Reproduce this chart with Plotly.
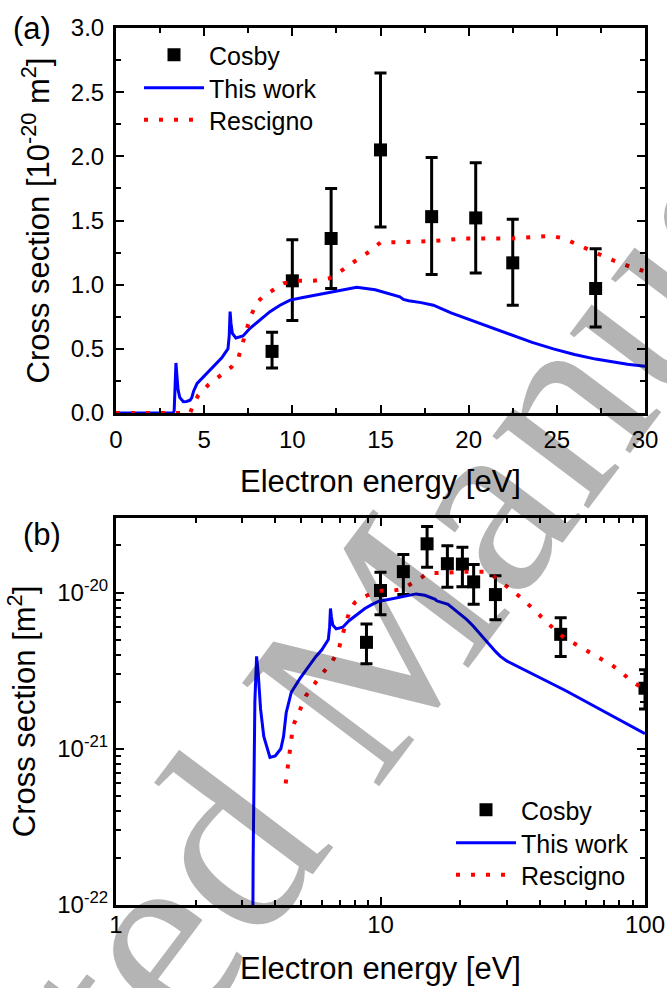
import plotly.graph_objects as go

# ---------------- data (cross sections in units of 1e-20 m^2) ----------------
cosby_E = [8.85, 10.0, 12.2, 15.0, 17.9, 20.4, 22.5, 27.2, 48.0, 100.0]
cosby_sig = [0.48, 1.03, 1.36, 2.05, 1.53, 1.52, 1.17, 0.97, 0.54, 0.244]
cosby_hi = [0.63, 1.35, 1.75, 2.65, 1.99, 1.95, 1.51, 1.28, 0.69, 0.32]
cosby_lo = [0.35, 0.72, 0.97, 1.45, 1.08, 1.09, 0.84, 0.67, 0.39, 0.18]

this_E = [0, 3.25, 3.30, 3.35, 3.40, 3.45, 3.52, 3.62, 3.82, 4.0, 4.2, 4.3, 4.4,
          4.6, 4.95, 5.3, 5.7, 6.0, 6.18, 6.35, 6.42, 6.47, 6.52, 6.6, 6.8, 7.2,
          7.6, 8.1, 8.73, 9.3, 9.87, 10.6, 11.4, 12.5, 13.65, 14.7, 15.6, 16.1,
          16.3, 16.6, 17.3, 18.0, 19.0, 20.0, 21.2, 22.4, 23.6, 24.8, 26.0, 27.2,
          28.4, 29.0, 30.0, 50.0, 100.0]
this_sig = [0, 0, 0.02, 0.20, 0.39, 0.30, 0.18, 0.12, 0.088, 0.09, 0.10, 0.12, 0.17,
            0.23, 0.28, 0.33, 0.39, 0.43, 0.466, 0.50, 0.60, 0.79, 0.70, 0.62, 0.585, 0.60,
            0.66, 0.72, 0.79, 0.84, 0.88, 0.90, 0.92, 0.95, 0.98, 0.96, 0.925, 0.905,
            0.885, 0.875, 0.86, 0.84, 0.78, 0.73, 0.67, 0.61, 0.55, 0.50, 0.456, 0.42,
            0.39, 0.38, 0.365, 0.236, 0.125]

resc_E = [0, 3.9, 4.2, 4.38, 4.67, 5.24, 5.9, 6.56, 6.94, 7.32, 7.6, 7.98, 8.36,
          8.93, 9.49, 10.25, 11.2, 12.1, 12.7, 13.3, 13.84, 14.4, 15.0, 16.0, 18.0,
          19.7, 22.4, 24.7, 25.4, 26.7, 28.0, 29.15, 30.0, 34.2, 39.8, 43.1, 47.5,
          52.0, 62.9, 74.8, 81.6, 89.0, 100.0]
resc_sig = [0, 0, 0, 0.06, 0.14, 0.22, 0.29, 0.36, 0.43, 0.60, 0.74, 0.86, 0.91,
            0.96, 1.01, 1.03, 1.03, 1.05, 1.10, 1.16, 1.21, 1.26, 1.33, 1.33, 1.34,
            1.36, 1.36, 1.38, 1.36, 1.28, 1.20, 1.14, 1.10, 0.92, 0.72, 0.63, 0.54,
            0.49, 0.41, 0.344, 0.308, 0.27, 0.24]

series_names = ["Cosby", "This work", "Rescigno"]
y_ticks_b = [1e-22, 1e-21, 1e-20]
y_ticktext_b = ["10<sup>-22</sup>", "10<sup>-21</sup>", "10<sup>-20</sup>"]
x_minor_b = [2, 3, 4, 5, 6, 7, 8, 9, 20, 30, 40, 50, 60, 70, 80, 90]
y_minor_b = [m * 1e-22 for m in range(2, 10)] + [m * 1e-21 for m in range(2, 10)] + [2e-20, 3e-20]

FONT = "Arial, Liberation Sans, sans-serif"
BLUE = "#0000FF"
RED = "#FF0000"

W, H = 667, 988


def px(x):
    return x / W


def py(y):
    return 1 - y / H


fig = go.Figure()

legend_ids = [["legend", "legend2", "legend3"], ["legend4", "legend5", "legend6"]]
for panel in (0, 1):
    log = panel == 1
    xa, ya = ("x", "y") if not log else ("x2", "y2")
    legs = legend_ids[panel]
    f = 1e-20 if log else 1.0
    fig.add_trace(go.Scatter(
        x=cosby_E, y=[s * f for s in cosby_sig], mode="markers", name=series_names[0],
        marker=dict(symbol="square", size=13, color="black"),
        error_y=dict(type="data", symmetric=False,
                     array=[(h - s) * f for h, s in zip(cosby_hi, cosby_sig)],
                     arrayminus=[(s - l) * f for s, l in zip(cosby_sig, cosby_lo)],
                     color="black", thickness=3, width=6),
        xaxis=xa, yaxis=ya, legend=legs[0]))
    ty = [(s if s > 0 else 1e-4) * f for s in this_sig] if log else this_sig
    fig.add_trace(go.Scatter(
        x=this_E, y=ty, mode="lines", name=series_names[1],
        line=dict(color=BLUE, width=3), xaxis=xa, yaxis=ya, legend=legs[1]))
    ry = [(s * f if s > 0 else None) for s in resc_sig] if log else resc_sig
    fig.add_trace(go.Scatter(
        x=resc_E, y=ry, mode="lines", name=series_names[2], connectgaps=False,
        line=dict(color=RED, width=4, dash="4px,11px"), xaxis=xa, yaxis=ya, legend=legs[2]))

axis_common = dict(showline=True, linewidth=3, linecolor="black", mirror="allticks",
                   ticks="inside", ticklen=8, tickwidth=2, tickcolor="black",
                   showgrid=False, zeroline=False, automargin=False,
                   tickfont=dict(family=FONT, size=24, color="black"))
minor_common = dict(ticks="inside", ticklen=5, tickwidth=2, tickcolor="black", showgrid=False)
TITLE_FONT = dict(family=FONT, size=31, color="black")

XD = [px(116), px(645)]


def legend_at(xpix, ypix):
    return dict(x=px(xpix), y=py(ypix), xanchor="left", yanchor="middle",
                bgcolor="rgba(0,0,0,0)", font=dict(family=FONT, size=25, color="black"),
                itemwidth=60, tracegroupgap=0)


fig.update_layout(
    width=W, height=H, margin=dict(l=0, r=0, t=0, b=0, autoexpand=False),
    paper_bgcolor="white", plot_bgcolor="white",
    font=dict(family=FONT, color="black"),
    xaxis=dict(axis_common, domain=XD, range=[0, 30], anchor="y", dtick=5, tick0=0,
               ticklabelstandoff=3,
               minor=dict(minor_common, dtick=2.5),
               title=dict(text="Electron energy [eV]", font=TITLE_FONT, standoff=19)),
    yaxis=dict(axis_common, domain=[py(413), py(28)], range=[0, 3], anchor="x",
               dtick=0.5, tick0=0, tickformat=".1f", ticklabelstandoff=4,
               minor=dict(minor_common, dtick=0.25),
               title=dict(text="Cross section [10<sup>-20</sup> m<sup>2</sup>]",
                          font=TITLE_FONT, standoff=12)),
    xaxis2=dict(axis_common, domain=XD, type="log", range=[0, 2], anchor="y2", dtick=1,
                ticklabelstandoff=-4,
                minor=dict(minor_common, tickmode="array", tickvals=x_minor_b),
                title=dict(text="Electron energy [eV]", font=TITLE_FONT, standoff=21)),
    yaxis2=dict(axis_common, domain=[py(905), py(518)], type="log",
                range=[-22, -19.523], anchor="x2",
                tickmode="array", tickvals=y_ticks_b, ticktext=y_ticktext_b,
                minor=dict(minor_common, tickmode="array", tickvals=y_minor_b),
                title=dict(text="Cross section [m<sup>2</sup>]", font=TITLE_FONT, standoff=13)),
    legend=legend_at(139, 55),
    legend2=legend_at(139, 88),
    legend3=legend_at(139, 120),
    legend4=legend_at(451, 810),
    legend5=legend_at(451, 843),
    legend6=legend_at(451, 875),
    showlegend=True,
    annotations=[
        dict(text="(a)", x=px(32), y=py(28), xref="paper", yref="paper",
             showarrow=False, font=dict(family=FONT, size=31), xanchor="center", yanchor="middle"),
        dict(text="(b)", x=px(42), y=py(534), xref="paper", yref="paper",
             showarrow=False, font=dict(family=FONT, size=31), xanchor="center", yanchor="middle"),
        dict(text="Accepted Manuscript", x=px(346), y=py(684), xref="paper",
             yref="paper", showarrow=False, textangle=-53,
             font=dict(family="Liberation Serif, Times New Roman, serif", size=262,
                       color="rgba(0,0,0,0.294)"),
             xanchor="center", yanchor="middle"),
    ],
)

# remove the default 8 px page margin so the 667x988 figure fills the window exactly
fig.write_html("out.html", config={"displayModeBar": False},
               post_script="document.body.style.margin='0';")
